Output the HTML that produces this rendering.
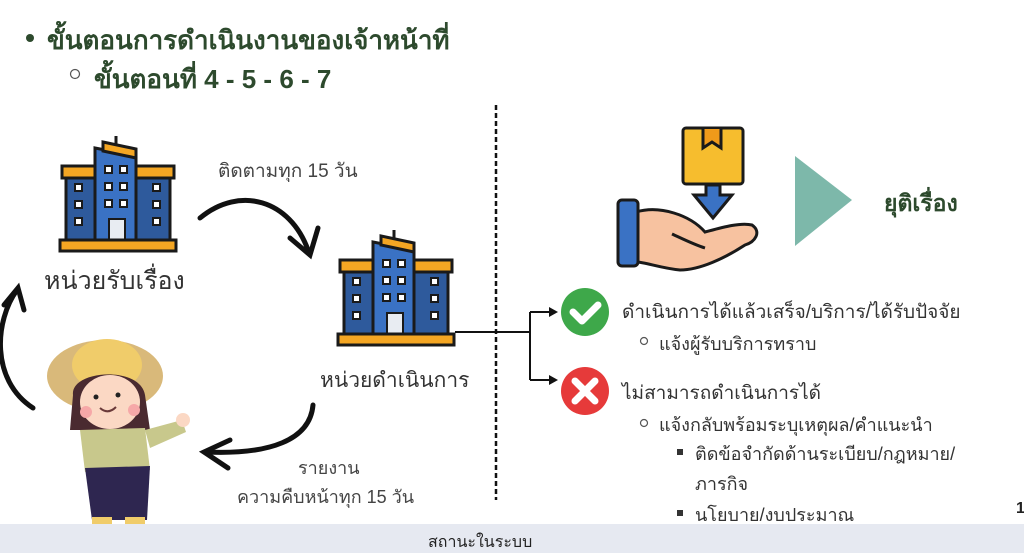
<!DOCTYPE html>
<html><head><meta charset="utf-8"><style>
html,body{margin:0;padding:0;background:#fff;}
body{width:1024px;height:553px;overflow:hidden;position:relative;font-family:"Liberation Sans","Noto Sans CJK SC",sans-serif;}
.t{position:absolute;white-space:nowrap;font-family:"Liberation Sans","Noto Sans CJK SC",sans-serif;}
</style></head><body>
<svg width="1024" height="553" style="position:absolute;left:0;top:0">
<defs>
<g id="bld">
 <rect x="4" y="30" width="112" height="12" fill="#f4a623" stroke="#1a1a1a" stroke-width="3"/>
 <rect x="8" y="42" width="104" height="62" fill="#2e5a9c" stroke="#1a1a1a" stroke-width="3"/>
 <polygon points="37,12 78,20 78,104 37,104" fill="#3a72c4" stroke="#1a1a1a" stroke-width="3"/>
 <polygon points="45,6 78,13 78,22 45,15" fill="#f4a623" stroke="#1a1a1a" stroke-width="3"/>
 <line x1="58" y1="0" x2="58" y2="8" stroke="#1a1a1a" stroke-width="3"/>
 <g fill="#fff" stroke="#1a1a1a" stroke-width="2">
  <rect x="47" y="30" width="7" height="7"/><rect x="62" y="30" width="7" height="7"/>
  <rect x="47" y="47" width="7" height="7"/><rect x="62" y="47" width="7" height="7"/>
  <rect x="47" y="64" width="7" height="7"/><rect x="62" y="64" width="7" height="7"/>
  <rect x="17" y="48" width="7" height="7"/><rect x="17" y="65" width="7" height="7"/><rect x="17" y="82" width="7" height="7"/>
  <rect x="95" y="48" width="7" height="7"/><rect x="95" y="65" width="7" height="7"/><rect x="95" y="82" width="7" height="7"/>
  <rect x="51" y="83" width="16" height="21" fill="#e8ecf2"/>
 </g>
 <rect x="2" y="104" width="116" height="11" fill="#f4a623" stroke="#1a1a1a" stroke-width="3"/>
</g>
</defs>
<use href="#bld" x="58" y="136"/>
<use href="#bld" x="336" y="230"/>
<g fill="none" stroke="#111" stroke-width="5" stroke-linecap="round">
 <path d="M200 218 C240 185 290 200 308 250"/>
 <path d="M290 238 L310 255 L318 228"/>
 <path d="M313 405 C310 440 270 455 205 452"/>
 <path d="M230 440 L204 452 L228 468"/>
 <path d="M33 408 C-10 380 -5 320 17 290"/>
 <path d="M4 305 L18 288 L24 310"/>
</g>
<line x1="496" y1="105" x2="496" y2="500" stroke="#111" stroke-width="2.5" stroke-dasharray="5,3"/>
<g fill="none" stroke="#111" stroke-width="2">
 <path d="M455 332 L530 332 M530 312 L530 380 M530 312 L556 312 M530 380 L556 380"/>
</g>
<polygon points="549,307 558,312 549,317" fill="#111"/>
<polygon points="549,375 558,380 549,385" fill="#111"/>
<circle cx="585" cy="312" r="24" fill="#3ea84a"/>
<path d="M573 312 L582 321 L598 305" stroke="#fff" stroke-width="7" fill="none" stroke-linecap="round" stroke-linejoin="round"/>
<circle cx="585" cy="391" r="24" fill="#e63a3a"/>
<path d="M575 381 L595 401 M595 381 L575 401" stroke="#fff" stroke-width="7" stroke-linecap="round"/>
<rect x="683" y="128" width="60" height="56" rx="3" fill="#f6bd2e" stroke="#1a1a1a" stroke-width="3"/>
<path d="M703 129 L703 148 L712 142 L721 148 L721 129" fill="#f09a1a" stroke="#1a1a1a" stroke-width="3"/>
<polygon points="706,185 720,185 720,195 732,195 713,218 694,195 706,195" fill="#3a72c4" stroke="#1a1a1a" stroke-width="3"/>
<path d="M636 212 C660 205 690 215 705 232 C720 228 740 222 752 225 C762 232 755 242 745 245 C725 258 700 270 680 270 C660 268 645 262 636 262 Z" fill="#f7c2a0" stroke="#1a1a1a" stroke-width="3"/>
<path d="M672 234 C685 240 695 245 705 248" fill="none" stroke="#1a1a1a" stroke-width="3"/>
<rect x="618" y="200" width="20" height="66" rx="4" fill="#3a72c4" stroke="#1a1a1a" stroke-width="3"/>
<polygon points="795,156 852,200 795,246" fill="#7db8aa"/>
<ellipse cx="105" cy="376" rx="58" ry="36" fill="#d9b97a"/>
<ellipse cx="107" cy="365" rx="35" ry="26" fill="#f0cc6a"/>
<path d="M73 395 C70 370 140 365 145 395 L150 430 L70 430 Z" fill="#4a2a30"/>
<ellipse cx="110" cy="402" rx="30" ry="27" fill="#fbd8c4"/>
<circle cx="86" cy="412" r="6" fill="#f6a8a8"/><circle cx="134" cy="410" r="6" fill="#f6a8a8"/>
<circle cx="96" cy="397" r="2.5" fill="#222"/><circle cx="118" cy="395" r="2.5" fill="#222"/>
<path d="M100 408 Q108 415 116 407" stroke="#6a3a3a" stroke-width="2" fill="none"/>
<path d="M80 430 L145 428 L150 470 L85 472 Z" fill="#c8c88c"/>
<path d="M145 430 L182 420 L186 432 L150 448 Z" fill="#c8c88c"/>
<circle cx="183" cy="420" r="7" fill="#fbd8c4"/>
<path d="M85 468 L150 466 L147 520 L92 520 Z" fill="#2e2650"/>
<rect x="92" y="517" width="20" height="8" fill="#f0cc6a"/><rect x="125" y="517" width="20" height="8" fill="#f0cc6a"/>
<circle cx="30" cy="38" r="4" fill="#2d4a2d"/>
<circle cx="75" cy="74" r="4.5" fill="none" stroke="#555" stroke-width="1.2"/>
<circle cx="644" cy="341" r="3.5" fill="none" stroke="#555" stroke-width="1.2"/>
<circle cx="644" cy="423" r="3.5" fill="none" stroke="#555" stroke-width="1.2"/>
<rect x="677" y="449" width="6" height="6" fill="#333"/>
<rect x="677" y="510" width="6" height="6" fill="#333"/>
<rect x="0" y="524" width="1024" height="29" fill="#e6e9f1"/>
</svg>
<div class="t" style="left:47px;top:20px;font-size:26px;font-weight:bold;color:#2d4a2d">ขั้นตอนการดำเนินงานของเจ้าหน้าที่</div>
<div class="t" style="left:94px;top:59px;font-size:26px;font-weight:bold;color:#2d4a2d">ขั้นตอนที่ 4 - 5 - 6 - 7</div>
<div class="t" style="left:218px;top:156px;font-size:19px;color:#444">ติดตามทุก 15 วัน</div>
<div class="t" style="left:44px;top:261px;font-size:25px;color:#333">หน่วยรับเรื่อง</div>
<div class="t" style="left:320px;top:364px;font-size:21px;color:#333">หน่วยดำเนินการ</div>
<div class="t" style="left:298px;top:453px;font-size:18px;color:#444">รายงาน</div>
<div class="t" style="left:237px;top:482px;font-size:18px;color:#444">ความคืบหน้าทุก 15 วัน</div>
<div class="t" style="left:884px;top:186px;font-size:23px;font-weight:bold;color:#2d4a2d">ยุติเรื่อง</div>
<div class="t" style="left:622px;top:297px;font-size:19px;color:#333">ดำเนินการได้แล้วเสร็จ/บริการ/ได้รับปัจจัย</div>
<div class="t" style="left:659px;top:329px;font-size:18px;color:#333">แจ้งผู้รับบริการทราบ</div>
<div class="t" style="left:622px;top:378px;font-size:19px;color:#333">ไม่สามารถดำเนินการได้</div>
<div class="t" style="left:659px;top:410px;font-size:18px;color:#333">แจ้งกลับพร้อมระบุเหตุผล/คำแนะนำ</div>
<div class="t" style="left:695px;top:439px;font-size:18px;color:#333">ติดข้อจำกัดด้านระเบียบ/กฎหมาย/</div>
<div class="t" style="left:695px;top:469px;font-size:18px;color:#333">ภารกิจ</div>
<div class="t" style="left:695px;top:500px;font-size:18px;color:#333">นโยบาย/งบประมาณ</div>
<div class="t" style="left:1016px;top:500px;font-size:16px;font-weight:bold;color:#222">1</div>
<div class="t" style="left:428px;top:530px;font-size:16px;color:#222">สถานะในระบบ</div>
</body></html>
